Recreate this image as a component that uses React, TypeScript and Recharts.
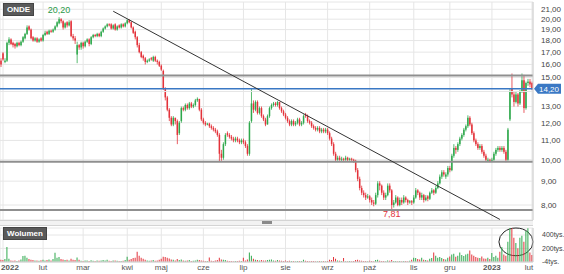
import React from "react";
import {
  ComposedChart, BarChart, Bar, Cell, XAxis, YAxis, CartesianGrid,
  ReferenceLine, ReferenceDot, ReferenceArea,
} from "recharts";

// daily candles, 2022-01 .. 2023-02 (index = trading day)
const open = [
  16.3, 16.9, 16.2, 16.3, 17.8, 18.1, 17.8, 17.7, 17.5, 17.8,
  17.6, 17.9, 18.2, 18.6, 19.3, 19.0, 18.3, 18.0, 18.2, 17.9,
  18.2, 18.0, 18.5, 18.8, 18.6, 18.9, 18.8, 19.0, 19.3, 19.6,
  20.0, 19.8, 19.2, 19.7, 19.4, 19.8, 18.4, 18.2, 16.8, 17.6,
  17.4, 17.8, 17.5, 17.9, 18.1, 17.7, 18.3, 18.5, 18.4, 18.6,
  18.4, 18.8, 19.1, 19.3, 19.5, 19.5, 19.1, 19.5, 19.0, 19.4,
  19.2, 19.5, 19.3, 19.6, 19.9, 19.7, 19.2, 18.8, 18.3, 17.6,
  17.0, 16.7, 16.5, 16.2, 16.3, 16.5, 16.3, 16.6, 16.3, 16.2,
  15.9, 15.5, 14.2, 13.6, 12.8, 12.3, 11.9, 12.3, 12.1, 11.4,
  12.1, 12.9, 12.8, 13.1, 12.9, 13.2, 13.0, 13.1, 13.4, 13.5,
  12.8, 12.2, 12.0, 11.9, 11.95, 11.8, 11.7, 11.6, 11.5, 11.3,
  10.3, 10.1, 10.8, 11.4, 11.3, 11.2, 11.1, 11.0, 11.1, 11.0,
  10.9, 11.0, 10.9, 10.7, 10.3, 12.1, 13.2, 12.8, 13.3, 12.6,
  12.9, 12.4, 12.2, 11.9, 12.4, 12.9, 13.1, 13.2, 13.1, 13.3,
  12.9, 12.7, 12.5, 12.3, 12.1, 11.9, 12.1, 11.9, 12.0, 12.2,
  11.9, 12.0, 12.5, 12.4, 12.1, 12.0, 11.8, 11.7, 11.6, 11.7,
  11.5, 11.6, 11.5, 11.6, 11.4, 11.1, 10.8, 10.3, 10.0, 10.1,
  10.0, 10.05, 10.0, 10.1, 10.0, 10.05, 10.0, 9.95, 9.5, 9.1,
  8.7, 8.5, 8.4, 8.3, 8.35, 8.2, 8.1, 8.05, 8.4, 8.9,
  8.8, 8.5, 8.3, 8.4, 8.8, 8.6, 8.0, 8.1, 8.3, 8.0,
  8.2, 8.1, 8.3, 8.2, 8.1, 8.15, 8.1, 8.3, 8.6, 8.5,
  8.3, 8.4, 8.2, 8.35, 8.25, 8.5, 8.6, 8.5, 8.7, 8.9,
  9.2, 9.4, 9.2, 9.3, 9.6, 9.5, 10.2, 10.6, 10.5, 10.8,
  11.1, 11.3, 11.6, 11.8, 12.3, 11.9, 11.4, 11.0, 10.8, 10.6,
  10.7, 10.4, 10.2, 9.95, 10.0, 9.95, 10.0, 10.3, 10.5, 10.6,
  10.5, 10.6, 10.4, 10.0, 12.2, 14.2, 13.8, 13.3, 13.8, 13.2,
  14.0, 14.8, 12.9, 14.6, 14.7, 14.6,
];
const high = [
  16.5, 17.0, 16.5, 17.9, 18.3, 18.2, 17.9, 17.8, 17.9, 17.9,
  18.0, 18.4, 18.7, 19.4, 19.4, 19.1, 18.4, 18.3, 18.3, 18.2,
  18.3, 18.6, 18.9, 18.9, 19.0, 19.0, 19.1, 19.4, 19.8, 20.2,
  20.1, 19.9, 19.7, 19.8, 19.9, 19.9, 18.6, 18.4, 17.9, 17.7,
  17.9, 17.9, 18.0, 18.2, 18.2, 18.4, 18.6, 18.6, 18.7, 18.7,
  18.9, 19.2, 19.4, 19.6, 19.6, 19.6, 19.5, 19.6, 19.4, 19.5,
  19.6, 19.6, 19.7, 20.0, 20.0, 19.8, 19.3, 18.9, 18.4, 17.8,
  17.1, 16.8, 16.6, 16.4, 16.5, 16.6, 16.7, 16.7, 16.4, 16.3,
  16.0, 15.6, 14.3, 13.7, 12.9, 12.4, 12.4, 12.3, 12.2, 12.1,
  13.0, 13.0, 13.2, 13.2, 13.3, 13.3, 13.2, 13.5, 13.6, 13.5,
  12.9, 12.3, 12.1, 12.0, 12.0, 11.9, 11.8, 11.7, 11.6, 11.4,
  10.5, 10.9, 11.4, 11.5, 11.4, 11.3, 11.2, 11.2, 11.2, 11.1,
  11.1, 11.1, 11.0, 10.8, 12.1, 14.2, 13.4, 13.4, 13.4, 13.0,
  13.0, 12.5, 12.3, 12.5, 13.0, 13.2, 13.3, 13.3, 13.35, 13.3,
  13.0, 12.8, 12.6, 12.4, 12.2, 12.2, 12.2, 12.1, 12.3, 12.3,
  12.1, 12.5, 12.6, 12.5, 12.2, 12.1, 11.9, 11.8, 11.8, 11.8,
  11.7, 11.7, 11.7, 11.7, 11.5, 11.2, 10.9, 10.4, 10.2, 10.2,
  10.15, 10.1, 10.2, 10.15, 10.1, 10.1, 10.05, 10.0, 9.6, 9.2,
  8.8, 8.6, 8.5, 8.45, 8.4, 8.3, 8.2, 8.5, 9.0, 9.0,
  8.85, 8.6, 8.5, 8.9, 8.9, 8.65, 8.2, 8.4, 8.35, 8.3,
  8.3, 8.4, 8.35, 8.25, 8.2, 8.2, 8.4, 8.7, 8.65, 8.55,
  8.5, 8.45, 8.4, 8.4, 8.55, 8.7, 8.65, 8.8, 9.0, 9.3,
  9.5, 9.5, 9.4, 9.7, 9.7, 10.3, 10.8, 10.7, 10.9, 11.2,
  11.4, 11.7, 11.9, 12.45, 12.4, 12.0, 11.5, 11.1, 10.9, 10.8,
  10.8, 10.5, 10.3, 10.1, 10.05, 10.1, 10.4, 10.6, 10.7, 10.7,
  10.7, 10.7, 10.5, 11.7, 14.2, 15.3, 14.0, 14.0, 13.9, 14.1,
  15.3, 15.2, 14.7, 14.9, 14.9, 14.7,
];
const low = [
  15.8, 16.3, 16.1, 16.2, 17.6, 17.6, 17.4, 17.3, 17.4, 17.5,
  17.5, 17.8, 18.1, 18.5, 18.9, 18.1, 17.9, 17.9, 17.8, 17.8,
  17.9, 17.9, 18.4, 18.5, 18.5, 18.7, 18.7, 18.9, 19.2, 19.5,
  19.6, 19.0, 19.1, 19.2, 19.3, 18.3, 18.0, 17.7, 16.1, 17.2,
  17.2, 17.3, 17.4, 17.8, 17.5, 17.6, 18.2, 18.3, 18.3, 18.3,
  18.3, 18.7, 19.0, 19.2, 19.3, 19.0, 19.0, 18.9, 18.9, 19.1,
  19.1, 19.2, 19.2, 19.5, 19.6, 19.1, 18.6, 18.1, 17.4, 16.9,
  16.5, 16.3, 16.0, 16.1, 16.2, 16.3, 16.2, 16.2, 16.0, 15.8,
  15.5, 14.1, 13.4, 12.7, 12.1, 11.8, 11.8, 11.9, 10.8, 11.3,
  12.0, 12.7, 12.7, 12.8, 12.8, 12.9, 12.9, 13.0, 13.3, 12.7,
  12.1, 11.9, 11.8, 11.85, 11.7, 11.6, 11.5, 11.4, 11.2, 9.9,
  9.95, 10.0, 10.7, 11.2, 11.1, 11.0, 10.9, 10.9, 10.9, 10.8,
  10.8, 10.8, 10.6, 10.2, 10.2, 12.0, 12.6, 12.7, 12.5, 12.5,
  12.3, 12.1, 11.8, 11.9, 12.3, 12.8, 13.0, 13.0, 13.0, 12.8,
  12.6, 12.4, 12.2, 12.0, 11.8, 11.8, 11.8, 11.8, 11.9, 11.8,
  11.8, 11.9, 12.3, 12.0, 11.9, 11.7, 11.6, 11.5, 11.5, 11.4,
  11.4, 11.4, 11.4, 11.3, 11.0, 10.7, 10.2, 9.9, 9.95, 9.95,
  9.9, 9.92, 9.95, 9.93, 9.95, 9.92, 9.85, 9.4, 9.0, 8.6,
  8.4, 8.3, 8.2, 8.25, 8.1, 8.0, 7.95, 8.0, 8.3, 8.6,
  8.4, 8.2, 8.2, 8.35, 8.5, 7.81, 7.9, 8.05, 7.95, 7.95,
  8.0, 8.05, 8.1, 8.0, 8.05, 8.0, 8.05, 8.25, 8.4, 8.2,
  8.2, 8.1, 8.15, 8.15, 8.2, 8.45, 8.4, 8.45, 8.65, 8.85,
  9.1, 9.2, 9.1, 9.2, 9.4, 9.45, 10.1, 10.3, 10.4, 10.7,
  11.0, 11.2, 11.5, 11.7, 11.8, 11.3, 10.9, 10.7, 10.5, 10.5,
  10.3, 10.1, 9.9, 9.9, 9.88, 9.9, 9.95, 10.2, 10.4, 10.4,
  10.4, 10.3, 9.88, 9.95, 12.1, 13.6, 13.0, 13.2, 13.0, 13.1,
  13.9, 12.6, 12.8, 14.4, 14.3, 14.1,
];
const close = [
  16.0, 16.4, 16.3, 17.8, 18.1, 17.7, 17.6, 17.5, 17.8, 17.6,
  17.9, 18.3, 18.6, 19.2, 19.0, 18.2, 18.0, 18.2, 17.9, 18.1,
  18.0, 18.5, 18.7, 18.6, 18.9, 18.8, 19.0, 19.3, 19.7, 20.0,
  19.8, 19.2, 19.6, 19.4, 19.7, 18.4, 18.2, 18.0, 17.6, 17.4,
  17.8, 17.5, 17.9, 18.1, 17.7, 18.3, 18.5, 18.4, 18.6, 18.4,
  18.8, 19.1, 19.3, 19.5, 19.4, 19.1, 19.4, 19.0, 19.3, 19.2,
  19.5, 19.3, 19.6, 19.9, 19.7, 19.2, 18.7, 18.3, 17.6, 17.0,
  16.6, 16.5, 16.2, 16.3, 16.4, 16.4, 16.6, 16.3, 16.2, 15.9,
  15.6, 14.2, 13.6, 12.8, 12.3, 11.9, 12.3, 12.1, 11.3, 12.0,
  12.9, 12.8, 13.1, 12.9, 13.2, 13.0, 13.1, 13.4, 13.5, 12.8,
  12.2, 12.0, 11.9, 11.95, 11.8, 11.7, 11.6, 11.5, 11.3, 10.3,
  10.1, 10.8, 11.3, 11.3, 11.2, 11.1, 11.0, 11.1, 11.0, 10.9,
  11.0, 10.9, 10.7, 10.3, 12.0, 13.2, 12.8, 13.3, 12.6, 12.9,
  12.4, 12.2, 11.9, 12.4, 12.9, 13.1, 13.2, 13.1, 13.3, 12.9,
  12.7, 12.5, 12.3, 12.1, 11.9, 12.1, 11.9, 12.0, 12.2, 11.9,
  12.0, 12.4, 12.4, 12.1, 12.0, 11.8, 11.7, 11.6, 11.7, 11.5,
  11.6, 11.5, 11.6, 11.4, 11.1, 10.8, 10.3, 10.0, 10.1, 10.0,
  10.05, 10.0, 10.1, 10.0, 10.05, 10.0, 9.95, 9.5, 9.1, 8.7,
  8.5, 8.4, 8.3, 8.35, 8.2, 8.1, 8.05, 8.4, 8.9, 8.8,
  8.5, 8.3, 8.4, 8.8, 8.6, 8.0, 8.1, 8.3, 8.0, 8.2,
  8.1, 8.3, 8.2, 8.1, 8.15, 8.1, 8.3, 8.6, 8.5, 8.3,
  8.4, 8.2, 8.3, 8.25, 8.5, 8.6, 8.5, 8.7, 8.9, 9.2,
  9.4, 9.3, 9.3, 9.6, 9.5, 10.2, 10.6, 10.5, 10.8, 11.1,
  11.3, 11.6, 11.8, 12.3, 11.9, 11.4, 11.0, 10.8, 10.6, 10.7,
  10.4, 10.2, 10.0, 10.0, 9.95, 10.0, 10.3, 10.5, 10.6, 10.5,
  10.6, 10.4, 10.0, 11.6, 14.0, 13.8, 13.3, 13.8, 13.2, 14.0,
  14.8, 12.9, 14.6, 14.7, 14.5, 14.2,
];
// volume, thousands of shares
const volume = [
  30, 25, 40, 220, 45, 20, 15, 18, 12, 20,
  35, 85, 90, 60, 40, 30, 25, 18, 20, 15,
  22, 30, 18, 25, 35, 20, 40, 135, 60, 70,
  40, 35, 25, 30, 20, 45, 30, 25, 65, 30,
  15, 12, 20, 18, 10, 22, 15, 12, 20, 15,
  18, 25, 20, 30, 15, 12, 18, 20, 15, 10,
  12, 15, 25, 75, 30, 40, 55, 60, 150, 90,
  60, 45, 30, 20, 15, 18, 25, 15, 20, 30,
  45, 75, 70, 60, 50, 35, 30, 20, 40, 25,
  35, 20, 15, 18, 25, 12, 15, 20, 30, 25,
  20, 15, 12, 10, 65, 15, 12, 18, 25, 60,
  35, 30, 25, 15, 12, 10, 8, 12, 10, 15,
  12, 60, 20, 35, 140, 90, 45, 30, 25, 20,
  25, 18, 20, 25, 30, 35, 20, 15, 25, 20,
  15, 12, 18, 10, 15, 12, 10, 8, 12, 10,
  10, 30, 15, 12, 8, 10, 12, 8, 6, 10,
  8, 10, 6, 12, 30, 25, 72, 45, 20, 15,
  10, 55, 8, 6, 10, 8, 12, 25, 30, 20,
  15, 12, 10, 8, 15, 10, 8, 25, 30, 15,
  12, 10, 8, 20, 15, 25, 10, 12, 8, 10,
  8, 12, 10, 8, 15, 30, 60, 55, 40, 35,
  60, 30, 25, 20, 45, 55, 140, 90, 60, 70,
  55, 40, 35, 60, 80, 110, 120, 75, 90, 140,
  100, 85, 110, 120, 168, 110, 90, 70, 60, 55,
  80, 50, 45, 60, 40, 130, 70, 90, 60, 150,
  220, 110, 90, 300, 500, 500, 360, 280, 200, 360,
  390, 300, 460, 500, 140, 100,
];

const monthTicks = [1, 21, 41, 63, 80, 101, 121, 142, 163, 184, 206, 224, 245, 265];
const monthLabels = ["2022", "lut", "mar", "kwi", "maj", "cze", "lip", "sie", "wrz", "paź", "lis", "gru", "2023", "lut"];
// 14,00 sits under the last-price tag, so only its grid line is drawn
const priceTicks = [8, 9, 10, 11, 12, 13, 15, 16, 17, 18, 19, 20, 21];
const hiddenTick = 14;
const volTicks = [-4, 200, 400];

const levels = { resistance: 15.15, last: 14.2, support: 9.9, low: 7.81 };
const trend = [{ x: 56, y: 20.8 }, { x: 249, y: 7.45 }];

const GREEN = "#2ea84c";
const RED = "#e3323a";
const FONT = "'Liberation Sans', Arial, sans-serif";

const rows = close.map((_, i) => ({
  i, o: open[i], h: high[i], l: low[i], c: close[i], v: volume[i],
}));

const fmt = (v: number) => v.toFixed(2).replace(".", ",");

// eslint-disable-next-line @typescript-eslint/no-explicit-any
function Candle(props: any) {
  const { x, y, width, height, payload } = props;
  const top = Math.min(y, y + height);
  const bot = Math.max(y, y + height);
  const { o, h, l, c } = payload;
  const lh = Math.log(h), ll = Math.log(l);
  const py = (v: number) => (lh === ll ? top : top + ((lh - Math.log(v)) / (lh - ll)) * (bot - top));
  const cx = x + width / 2;
  const color = c >= o ? GREEN : RED;
  const bt = py(Math.max(o, c));
  const bb = py(Math.min(o, c));
  return (
    <g>
      <line x1={cx} x2={cx} y1={top} y2={bot} stroke={color} strokeWidth={0.8} />
      <rect x={cx - 0.75} y={bt} width={1.5} height={Math.max(1, bb - bt)} fill={color} />
    </g>
  );
}

// eslint-disable-next-line @typescript-eslint/no-explicit-any
function LastPriceTag(props: any) {
  const { viewBox } = props;
  const x0 = viewBox.x + viewBox.width;
  const y0 = viewBox.y;
  return (
    <g>
      <polygon
        points={`${x0 + 1},${y0} ${x0 + 5},${y0 - 5} ${x0 + 28},${y0 - 5} ${x0 + 28},${y0 + 5} ${x0 + 5},${y0 + 5}`}
        fill="#3a78c4"
      />
      <text x={x0 + 16} y={y0 + 3} textAnchor="middle" fontSize={8} fill="#fff" fontFamily={FONT}>
        {fmt(levels.last)}
      </text>
    </g>
  );
}

// eslint-disable-next-line @typescript-eslint/no-explicit-any
function Ellipse(props: any) {
  const { x, y, width, height } = props;
  return (
    <ellipse cx={x + width / 2} cy={y + height / 2} rx={width / 2} ry={height / 2}
      fill="none" stroke="#222" strokeWidth={1} />
  );
}

// eslint-disable-next-line @typescript-eslint/no-explicit-any
function MonthTick(props: any) {
  const { x, y, payload } = props;
  const idx = monthTicks.indexOf(payload.value);
  const label = monthLabels[idx] ?? "";
  const bold = label.length === 4;
  return (
    <text x={Math.min(Math.max(x, 10), 529)} y={y + 8} textAnchor="middle" fontSize={8}
      fontWeight={bold ? "bold" : "normal"} fill="#555" fontFamily={FONT}>
      {label}
    </text>
  );
}

const boxStyle: React.CSSProperties = {
  position: "absolute", background: "#5a5a5a", color: "#fff", fontSize: 8,
  fontWeight: "bold", fontFamily: FONT, lineHeight: "11px", padding: "0 3px",
  border: "1px solid #444",
};

export default function App() {
  return (
    <div style={{ position: "absolute", left: 0, top: 0, width: 564, height: 274, background: "#fff", overflow: "hidden" }}>
      <ComposedChart width={564} height={222} data={rows} margin={{ top: 2, right: 0, bottom: 2, left: 0 }} barCategoryGap={0}>
        <CartesianGrid stroke="#e6e6e6" />
        <XAxis dataKey="i" type="category" ticks={monthTicks} interval={0} hide />
        <YAxis
          orientation="right" width={31} scale="log" domain={[7.43, 21.77]} allowDataOverflow
          ticks={priceTicks} interval={0} tickFormatter={fmt} tickLine={false} tickMargin={2}
          axisLine={{ stroke: "#cfcfcf" }}
          tick={{ fontSize: 8, fill: "#444", fontFamily: FONT }}
        />
        <ReferenceLine y={hiddenTick} stroke="#e6e6e6" />
        <Bar dataKey={(d: { l: number; h: number }) => [d.l, d.h]} shape={<Candle />} isAnimationActive={false} />
        <ReferenceLine y={levels.resistance} stroke="#8f8f8f" strokeWidth={2} />
        <ReferenceLine y={levels.last} stroke="#3a78c4" strokeWidth={1.5} label={<LastPriceTag />} />
        <ReferenceLine y={levels.support} stroke="#8f8f8f" strokeWidth={2} />
        <ReferenceLine y={levels.low} stroke="#8f8f8f" strokeWidth={2} />
        <ReferenceLine segment={trend} stroke="#333" strokeWidth={1} />
        <ReferenceDot x={29} y={20.2} r={0} fill="none" stroke="none"
          label={{ value: "20,20", position: "top", fill: "#2a9a48", fontSize: 9, fontFamily: FONT, offset: 4 }} />
        <ReferenceDot x={195} y={7.81} r={0} fill="none" stroke="none"
          label={{ value: "7,81", position: "bottom", fill: "#e3323a", fontSize: 9, fontFamily: FONT, offset: 1 }} />
      </ComposedChart>

      <div style={{ position: "absolute", left: 0, top: 220, width: 533, height: 4, background: "#f2f2f2", borderTop: "1px solid #d4d4d4", borderBottom: "1px solid #d4d4d4" }} />
      <div style={{ position: "absolute", left: 262, top: 221, width: 10, height: 3, background: "#8a8a8a" }} />

      <div style={{ position: "absolute", left: 0, top: 226 }}>
        <BarChart width={564} height={48} data={rows} margin={{ top: 2, right: 0, bottom: 0, left: 0 }} barCategoryGap="20%">
          <CartesianGrid stroke="#e6e6e6" />
          <XAxis dataKey="i" type="category" ticks={monthTicks} interval={0} height={12}
            tickLine={false} tickSize={0} tickMargin={0} axisLine={{ stroke: "#cfcfcf" }} tick={<MonthTick />} />
          <YAxis
            orientation="right" width={31} domain={[-4, 505]} allowDataOverflow ticks={volTicks} interval={0}
            tickFormatter={(v: number) => `${v}tys.`} tickLine={false} tickMargin={3}
            axisLine={{ stroke: "#cfcfcf" }}
            tick={{ fontSize: 7, fill: "#444", fontFamily: FONT }}
          />
          <Bar dataKey="v" isAnimationActive={false}>
            {rows.map((r) => (
              <Cell key={r.i} fill={r.c >= r.o ? GREEN : RED} />
            ))}
          </Bar>
          <ReferenceArea x1={249} x2={265} y1={90} y2={505} shape={<Ellipse />} />
        </BarChart>
      </div>

      <div style={{ ...boxStyle, left: 3, top: 3 }}>ONDE</div>
      <div style={{ ...boxStyle, left: 3, top: 227 }}>Wolumen</div>
    </div>
  );
}
